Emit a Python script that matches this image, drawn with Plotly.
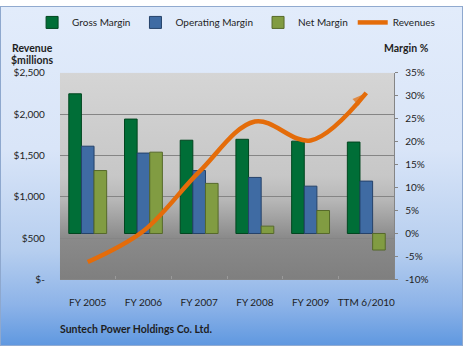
import base64
import plotly.graph_objects as go

# ---------------- data ----------------
categories = ["FY 2005", "FY 2006", "FY 2007", "FY 2008", "FY 2009", "TTM 6/2010"]
gross_margin = [30.4, 24.9, 20.3, 20.5, 20.1, 19.9]
operating_margin = [19.0, 17.5, 13.7, 12.2, 10.3, 11.4]
net_margin = [13.7, 17.7, 10.9, 1.6, 5.0, -3.6]
revenues = [210, 585, 1300, 1910, 1680, 2255]

rev_tickvals = [0, 500, 1000, 1500, 2000, 2500]
rev_ticktext = ["$-", "$500", "$1,000", "$1,500", "$2,000", "$2,500"]
margin_tickvals = [-10, -5, 0, 5, 10, 15, 20, 25, 30, 35]
margin_ticktext = ["-10%", "-5%", "0%", "5%", "10%", "15%", "20%", "25%", "30%", "35%"]

# ---------------- styles ----------------
W, H = 466, 355
FONT = "Lato, 'Open Sans', sans-serif"
TXT = "#1E1E1E"
GREEN, GREEN_E = "#006E37", "#00461F"
BLUE, BLUE_E = "#3F6BA3", "#25426A"
OLIVE, OLIVE_E = "#819C42", "#56692A"
ORANGE = "#E46C0A"

PL, PR, PT, PB = 60, 395, 69, 283  # plot area in px


def svg_uri(svg):
    return "data:image/svg+xml;base64," + base64.b64encode(svg.encode()).decode()


paper_svg = (
    '<svg xmlns="http://www.w3.org/2000/svg" width="464" height="352" viewBox="0 0 464 352" '
    'preserveAspectRatio="none"><defs><linearGradient id="g" x1="0" y1="0" x2="0" y2="1">'
    '<stop offset="0" stop-color="#E2ECFB"/><stop offset="0.42" stop-color="#D9E5F8"/>'
    '<stop offset="0.72" stop-color="#B6CEEF"/><stop offset="0.88" stop-color="#8DB3E8"/>'
    '<stop offset="1" stop-color="#5F98E0"/></linearGradient></defs>'
    '<rect x="0.5" y="0.5" width="463" height="351" fill="url(#g)" stroke="#8EA8CE"/></svg>'
)
plot_svg = (
    '<svg xmlns="http://www.w3.org/2000/svg" width="335" height="214" viewBox="0 0 335 214" '
    'preserveAspectRatio="none"><defs><linearGradient id="p" x1="0" y1="0" x2="0" y2="1">'
    '<stop offset="0" stop-color="#D5D5D5"/><stop offset="0.5" stop-color="#C7C7C7"/>'
    '<stop offset="0.62" stop-color="#B6B6B6"/><stop offset="0.8" stop-color="#8A8A8A"/>'
    '<stop offset="1" stop-color="#7F7F7F"/></linearGradient></defs>'
    '<rect x="0" y="0" width="335" height="214" fill="url(#p)"/></svg>'
)

fig = go.Figure()

for name, vals, c, e in [
    ("Gross Margin", gross_margin, GREEN, GREEN_E),
    ("Operating Margin", operating_margin, BLUE, BLUE_E),
    ("Net Margin", net_margin, OLIVE, OLIVE_E),
]:
    fig.add_trace(go.Bar(
        x=categories, y=vals, name=name, yaxis="y",
        marker=dict(color=c, line=dict(color=e, width=1)),
        hoverinfo="skip",
    ))

fig.add_trace(go.Scatter(
    x=categories, y=revenues, name="Revenues", yaxis="y2", mode="lines",
    line=dict(color=ORANGE, width=4.5, shape="spline", smoothing=1.0),
    hoverinfo="skip",
))
# arrow head at end of revenue line
fig.add_trace(go.Scatter(
    x=categories[-2:], y=revenues[-2:], yaxis="y2", mode="markers", showlegend=False,
    marker=dict(symbol="arrow", size=[0, 15], angleref="previous", color=ORANGE,
                line=dict(width=0)),
    hoverinfo="skip",
))

fig.update_layout(
    width=W, height=H,
    margin=dict(l=0, r=0, t=0, b=0),
    paper_bgcolor="white",
    plot_bgcolor="rgba(0,0,0,0)",
    font=dict(family=FONT, size=10, color=TXT),
    barmode="group", bargap=0.32, bargroupgap=0,
    showlegend=True,
    legend=dict(orientation="h", x=0.069, y=1 - 17 / H, xanchor="left", yanchor="middle",
                font=dict(family=FONT, size=10, color=TXT), bgcolor="rgba(0,0,0,0)",
                traceorder="normal"),
    xaxis=dict(
        domain=[PL / W, PR / W], type="category",
        showgrid=False, showline=True, linecolor="#858585", linewidth=1,
        ticks="inside", ticklen=3, tickcolor="#9A9A9A", tickson="boundaries",
        tickangle=0, ticklabelstandoff=14,
        tickfont=dict(size=10, color=TXT), fixedrange=True,
    ),
    yaxis=dict(
        domain=[1 - PB / H, 1 - PT / H], side="right", range=[-10, 35],
        tickvals=margin_tickvals, ticktext=margin_ticktext,
        showgrid=False, zeroline=False, showline=True, linecolor="#858585",
        ticks="outside", ticklen=3, tickcolor="#858585", ticklabelstandoff=5,
        tickfont=dict(size=10, color=TXT), fixedrange=True,
    ),
    yaxis2=dict(
        overlaying="y", side="left", range=[0, 2500],
        tickvals=rev_tickvals, ticktext=rev_ticktext,
        showgrid=True, gridcolor="#858585", gridwidth=1, zeroline=False,
        showline=False, ticks="", ticklabelstandoff=14,
        tickfont=dict(size=10, color=TXT), fixedrange=True,
    ),
    images=[
        dict(source=svg_uri(paper_svg), xref="paper", yref="paper", x=0, y=1,
             sizex=464 / W, sizey=352 / H, xanchor="left", yanchor="top",
             sizing="stretch", layer="below"),
        dict(source=svg_uri(plot_svg), xref="paper", yref="paper", x=PL / W, y=1 - PT / H,
             sizex=(PR - PL) / W, sizey=(PB - PT) / H, xanchor="left", yanchor="top",
             sizing="stretch", layer="below"),
    ],
    annotations=[
        dict(text="<b>Revenue</b>", x=10 / W, y=1 - 43 / H, xref="paper", yref="paper",
             xanchor="left", yanchor="middle", showarrow=False, font=dict(size=10.5)),
        dict(text="<b>$millions</b>", x=9 / W, y=1 - 56 / H, xref="paper", yref="paper",
             xanchor="left", yanchor="middle", showarrow=False, font=dict(size=10.5)),
        dict(text="<b>Margin %</b>", x=383 / W, y=1 - 43 / H, xref="paper", yref="paper",
             xanchor="left", yanchor="middle", showarrow=False, font=dict(size=10.5)),
        dict(text="<b>Suntech Power Holdings Co. Ltd.</b>", x=58 / W, y=1 - 334 / H,
             xref="paper", yref="paper", xanchor="left", yanchor="middle",
             showarrow=False, font=dict(size=10.5)),
    ],
)

fig.write_html(
    "out.html",
    config={"displayModeBar": False},
    post_script="document.body.style.margin='0';document.body.style.padding='0';",
)
